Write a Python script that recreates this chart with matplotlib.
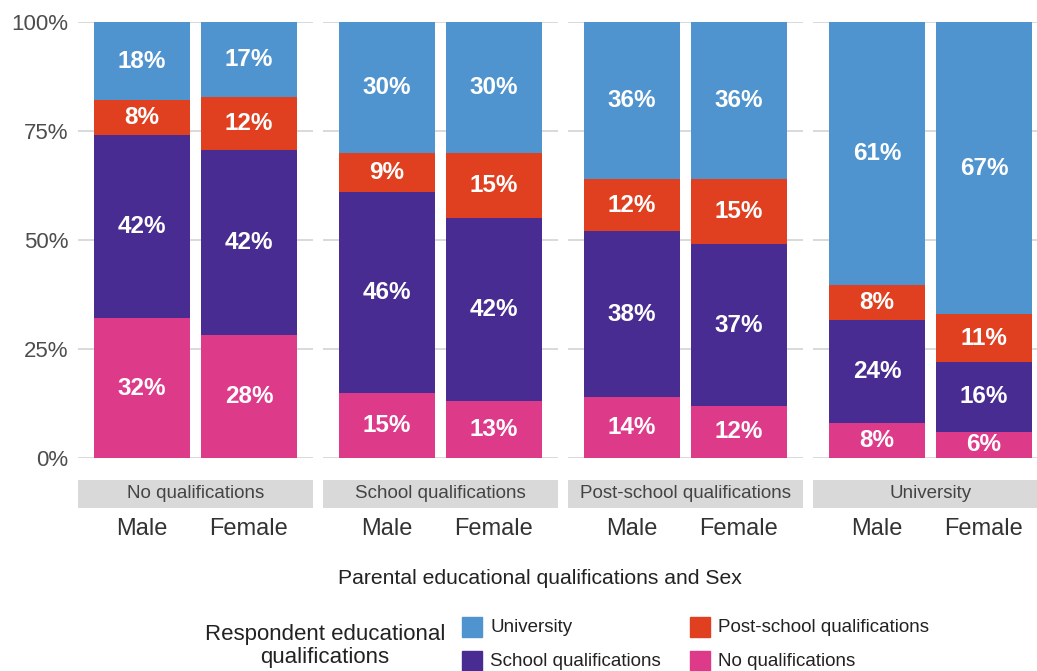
"""
plot.py - stacked share of respondent qualifications by parental qualifications and sex
"""
# --------------------------------- #

import numpy as np
import matplotlib.pyplot as plt
from matplotlib.patches import Rectangle

plt.rcParams['font.family'] = ['Liberation Sans', 'DejaVu Sans']

# --------------------------------- #
# data (percent)

parentQuals = ["No qualifications", "School qualifications", "Post-school qualifications", "University"]
sexes = ["Male", "Female"]

# respondent qualification shares, one [Male, Female] pair per parental group
noQual = [[32, 28], [15, 13], [14, 12], [8, 6]]
schoolQual = [[42, 42], [46, 42], [38, 37], [24, 16]]
postSchoolQual = [[8, 12], [9, 15], [12, 15], [8, 11]]
universityQual = [[18, 17], [30, 30], [36, 36], [61, 67]]

yTicks = [0, 0.25, 0.5, 0.75, 1.0]
yTickLabels = ["0%", "25%", "50%", "75%", "100%"]

# stacking order bottom -> top
stackNames = ["No qualifications", "School qualifications", "Post-school qualifications", "University"]
stackSeries = [noQual, schoolQual, postSchoolQual, universityQual]
stackColors = ["#DE3A8A", "#482C91", "#E0401F", "#4F94CF"]

# --------------------------------- #

W, H = 1037, 671
fig = plt.figure(figsize=(W / 100, H / 100), dpi=100)


def box(x0, y0, x1, y1):
    # pixel box (top-left origin) -> figure fraction rect
    return [x0 / W, 1 - y1 / H, (x1 - x0) / W, (y1 - y0) / H]


panelLeft, panelWidth, panelPitch = 78, 235, 245
positions = np.arange(1, len(sexes) + 1)

for i, parent in enumerate(parentQuals):
    x0 = panelLeft + panelPitch * i
    ax = fig.add_axes(box(x0, 22, x0 + panelWidth, 458))

    totals = np.sum([np.array(s[i]) for s in stackSeries], axis=0)
    bottoms = np.zeros(len(sexes))
    for series, color in zip(stackSeries, stackColors):
        raw = np.array(series[i])
        share = raw / totals
        ax.bar(positions, share, 0.9, bottom=bottoms, color=color, zorder=2)
        for pos, b, s, r in zip(positions, bottoms, share, raw):
            ax.text(pos, b + s / 2, f"{r}%", ha='center', va='center', color='white',
                    fontsize=17.5, fontweight='bold', fontstretch='normal', zorder=3)
        bottoms = bottoms + share

    ax.set_xlim(0.4, 2.6)
    ax.set_ylim(0, 1)
    ax.set_yticks(yTicks)
    ax.grid(axis='y', color='#d9d9d9', linewidth=1.4, zorder=0)
    ax.set_xticks([])
    for sp in ax.spines.values():
        sp.set_visible(False)
    ax.tick_params(axis='y', length=0, pad=7, labelsize=16, labelcolor='#4d4d4d')
    ax.set_axisbelow(True)
    if i == 0:
        ax.set_yticklabels(yTickLabels)
    else:
        ax.set_yticklabels([])

    # strip + sex labels underneath
    strip = fig.add_axes(box(x0, 480, x0 + panelWidth, 508))
    strip.set_facecolor('#d9d9d9')
    strip.set_xlim(0.4, 2.6)
    strip.set_ylim(0, 1)
    for sp in strip.spines.values():
        sp.set_visible(False)
    strip.set_yticks([])
    strip.set_xticks(positions)
    strip.set_xticklabels(sexes)
    strip.tick_params(axis='x', length=0, pad=7, labelsize=17, labelcolor='#333333')
    strip.text(1.5, 0.5, parent, ha='center', va='center', fontsize=13.5, color='#444444')

fig.text(540 / W, 1 - 578 / H, "Parental educational qualifications and Sex",
         ha='center', va='center', fontsize=15.2, color='#222222')

# --------------------------------- #
# legend (drawn by hand, ggplot style: title to the left, 2 x 2 keys)

fig.text(325 / W, 1 - 646 / H, "Respondent educational\nqualifications", ha='center', va='center',
         fontsize=16, color='#222222', linespacing=1.1)

legendOrder = [3, 2, 1, 0]  # University, Post-school / School, No qualifications
keyCols = [462, 690]
keyRows = [627, 661]
for k, idx in enumerate(legendOrder):
    col, row = k % 2, k // 2
    kx, ky = keyCols[col], keyRows[row]
    fig.add_artist(Rectangle((kx / W, 1 - (ky + 10) / H), 20 / W, 20 / H,
                             transform=fig.transFigure, color=stackColors[idx]))
    fig.text((kx + 28) / W, 1 - ky / H, stackNames[idx], ha='left', va='center',
             fontsize=13.5, color='#222222')

fig.savefig("out.png", dpi=100)
